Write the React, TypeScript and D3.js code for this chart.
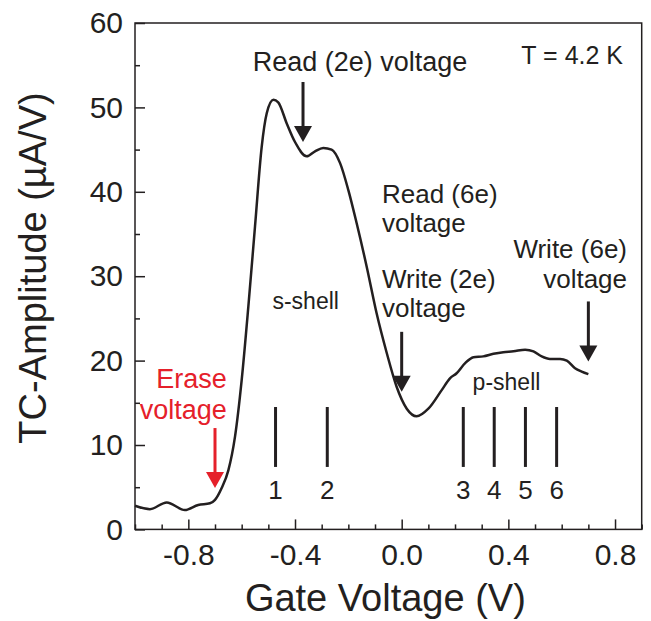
import React, { useEffect, useRef } from "react";
import * as d3 from "d3";

// measured trace (gate voltage in V, TC amplitude in µA/V)
const gateVoltage = [
  -1.0, -0.944, -0.881, -0.813, -0.763, -0.719, -0.7, -0.675, -0.65, -0.625,
  -0.6, -0.575, -0.55, -0.525, -0.506, -0.481, -0.463, -0.431, -0.4, -0.356,
  -0.325, -0.294, -0.263, -0.231, -0.2, -0.169, -0.131, -0.094, -0.056,
  -0.019, 0.019, 0.056, 0.1, 0.15, 0.181, 0.206, 0.238, 0.269, 0.306, 0.344,
  0.381, 0.419, 0.463, 0.494, 0.525, 0.556, 0.594, 0.619, 0.65, 0.675, 0.7,
];
const amplitude = [
  2.8, 2.4, 3.2, 2.3, 2.9, 3.1, 3.5, 4.9, 7.0, 11.0, 17.7, 26.4, 35.9, 45.3,
  49.3, 50.9, 50.6, 48.1, 45.9, 44.2, 44.8, 45.2, 45.0, 43.4, 40.2, 36.3, 31.1,
  25.6, 20.9, 16.9, 14.3, 13.4, 14.3, 16.5, 17.9, 18.5, 19.7, 20.4, 20.5, 20.8,
  21.0, 21.1, 21.3, 21.1, 20.5, 20.2, 20.2, 20.0, 19.1, 18.7, 18.4,
];

// charge state markers
const stateLabels = ["1", "2", "3", "4", "5", "6"];
const stateVoltage = [-0.473, -0.279, 0.231, 0.347, 0.464, 0.581];
const stateRange = [7.4, 14.5];

// arrows: voltage and tip amplitude
const arrowVoltage = [-0.37, -0.7, 0.0, 0.7];
const arrowTip = [45.9, 4.9, 16.3, 19.9];
const arrowColor = ["#231f20", "#e5202a", "#231f20", "#231f20"];

const xTicksMajor = [-0.8, -0.4, 0.0, 0.4, 0.8];
const yTicksMajor = [0, 10, 20, 30, 40, 50, 60];

export default function App() {
  const ref = useRef<SVGSVGElement>(null);
  const width = 651;
  const height = 621;

  useEffect(() => {
    const svg = d3.select(ref.current);
    svg.selectAll("*").remove();
    const m = { left: 135, top: 23, right: 641.7, bottom: 529.4 };
    const ink = "#231f20";
    const font = "'Liberation Sans', Arial, Helvetica, sans-serif";

    const x = d3.scaleLinear().domain([-1.0, 0.9]).range([m.left, m.right]);
    const y = d3.scaleLinear().domain([0, 60]).range([m.bottom, m.top]);

    svg
      .append("rect")
      .attr("x", m.left)
      .attr("y", m.top)
      .attr("width", m.right - m.left)
      .attr("height", m.bottom - m.top)
      .attr("fill", "none")
      .attr("stroke", ink)
      .attr("stroke-width", 1.5);

    // minor ticks
    const xMinor = d3.range(-10, 10).map((d) => d / 10).filter((d) => !xTicksMajor.some((t) => Math.abs(t - d) < 1e-6));
    svg
      .append("g")
      .attr("transform", `translate(0,${m.bottom})`)
      .call(d3.axisBottom(x).tickValues(xMinor).tickSize(-5).tickFormat(() => ""))
      .call((g) => g.select(".domain").remove())
      .selectAll("line")
      .attr("stroke", ink)
      .attr("stroke-width", 1.5);

    const yMinor = d3.range(5, 60, 10);
    svg
      .append("g")
      .attr("transform", `translate(${m.left},0)`)
      .call(d3.axisLeft(y).tickValues(yMinor).tickSize(-5).tickFormat(() => ""))
      .call((g) => g.select(".domain").remove())
      .selectAll("line")
      .attr("stroke", ink)
      .attr("stroke-width", 1.5);

    // major ticks + labels
    const xAxis = svg
      .append("g")
      .attr("transform", `translate(0,${m.bottom})`)
      .call(
        d3
          .axisBottom(x)
          .tickValues(xTicksMajor)
          .tickSize(-10)
          .tickPadding(14)
          .tickFormat((d) => d3.format(".1f")(d as number).replace("−", "-"))
      );
    xAxis.select(".domain").remove();
    xAxis.selectAll("line").attr("stroke", ink).attr("stroke-width", 1.5);
    xAxis
      .selectAll("text")
      .attr("fill", ink)
      .attr("font-family", font)
      .attr("font-size", 30);

    const yAxis = svg
      .append("g")
      .attr("transform", `translate(${m.left},0)`)
      .call(d3.axisLeft(y).tickValues(yTicksMajor).tickSize(-10).tickPadding(12));
    yAxis.select(".domain").remove();
    yAxis.selectAll("line").attr("stroke", ink).attr("stroke-width", 1.5);
    yAxis
      .selectAll("text")
      .attr("fill", ink)
      .attr("font-family", font)
      .attr("font-size", 30);

    // axis titles
    svg
      .append("text")
      .attr("x", (m.left + m.right) / 2 - 3)
      .attr("y", 611)
      .attr("text-anchor", "middle")
      .attr("font-family", font)
      .attr("font-size", 38)
      .attr("fill", ink)
      .text("Gate Voltage (V)");

    svg
      .append("text")
      .attr("transform", `translate(46,${268}) rotate(-90)`)
      .attr("text-anchor", "middle")
      .attr("font-family", font)
      .attr("font-size", 38)
      .attr("fill", ink)
      .text("TC-Amplitude (µA/V)");

    // trace
    const pts = gateVoltage.map((v, i) => [v, amplitude[i]] as [number, number]);
    const line = d3
      .line<[number, number]>()
      .x((d) => x(d[0]))
      .y((d) => y(d[1]))
      .curve(d3.curveMonotoneX);
    svg
      .append("path")
      .attr("d", line(pts))
      .attr("fill", "none")
      .attr("stroke", ink)
      .attr("stroke-width", 2.5)
      .attr("stroke-linejoin", "round");

    // charge state bars
    stateVoltage.forEach((v, i) => {
      svg
        .append("line")
        .attr("x1", x(v))
        .attr("x2", x(v))
        .attr("y1", y(stateRange[0]))
        .attr("y2", y(stateRange[1]))
        .attr("stroke", ink)
        .attr("stroke-width", 3);
      svg
        .append("text")
        .attr("x", x(v))
        .attr("y", y(stateRange[0]) + 32)
        .attr("text-anchor", "middle")
        .attr("font-family", font)
        .attr("font-size", 26)
        .attr("fill", ink)
        .text(stateLabels[i]);
    });

    // arrows
    arrowVoltage.forEach((v, i) => {
      const ax = x(v);
      const tip = y(arrowTip[i]);
      const len = 60;
      const head = 16;
      svg
        .append("line")
        .attr("x1", ax)
        .attr("x2", ax)
        .attr("y1", tip - len)
        .attr("y2", tip - head + 1)
        .attr("stroke", arrowColor[i])
        .attr("stroke-width", 3);
      svg
        .append("path")
        .attr("d", `M${ax - 9},${tip - head}L${ax + 9},${tip - head}L${ax},${tip}Z`)
        .attr("fill", arrowColor[i]);
    });

    // annotation text
    const label = (
      lines: string[],
      v: number,
      a: number,
      anchor: string,
      size: number,
      color = ink
    ) => {
      const t = svg
        .append("text")
        .attr("x", x(v))
        .attr("y", y(a))
        .attr("text-anchor", anchor)
        .attr("font-family", font)
        .attr("font-size", size)
        .attr("fill", color);
      lines.forEach((s, k) =>
        t
          .append("tspan")
          .attr("x", x(v))
          .attr("dy", k === 0 ? 0 : size * 1.12)
          .text(s)
      );
    };

    label(["Read (2e) voltage"], -0.156, 54.3, "middle", 27);
    label(["T = 4.2 K"], 0.83, 55.2, "end", 25);
    label(["Read (6e)", "voltage"], -0.074, 38.7, "start", 26);
    label(["Write (2e)", "voltage"], -0.074, 28.6, "start", 26);
    label(["Write (6e)", "voltage"], 0.845, 32.1, "end", 26);
    label(["Erase", "voltage"], -0.656, 16.7, "end", 27, "#e5202a");
    label(["s-shell"], -0.36, 26.1, "middle", 23);
    label(["p-shell"], 0.393, 16.5, "middle", 23);
  }, []);

  return (
    <svg
      ref={ref}
      width={width}
      height={height}
      style={{ position: "absolute", left: 0, top: 0, background: "#fff" }}
    />
  );
}
